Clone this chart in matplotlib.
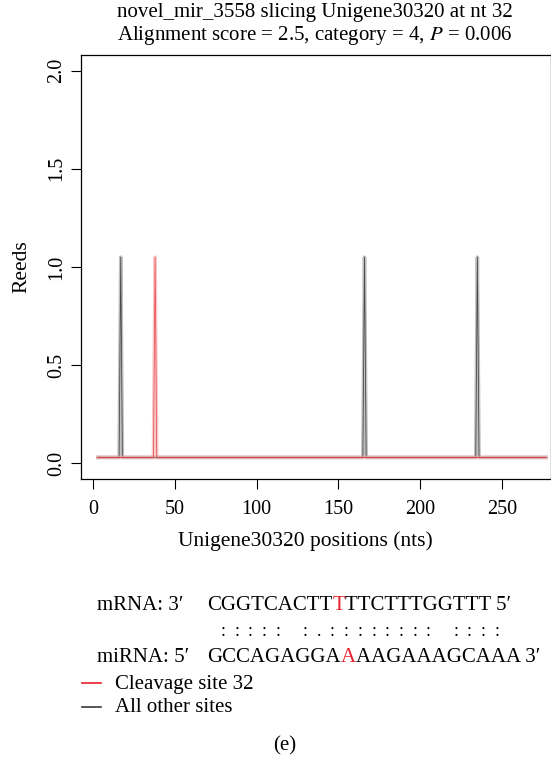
import numpy as np
import matplotlib
matplotlib.use("Agg")
import matplotlib.pyplot as plt

plt.rcParams['font.family'] = ['Liberation Serif', 'DejaVu Serif']
plt.rcParams['mathtext.fontset'] = 'stix'

# series: read counts along the transcript
positions = np.arange(3, 278)
baseline = 0.03
other_sites = [17, 166, 235]
other_reads = [1.05, 1.05, 1.05]
cleave_sites = [38]
cleave_reads = [1.05]

mrna_seq = "CGGTCACTTTTTCTTTGGTTT"
mirna_seq = "GCCAGAGGAAAAGAAAGCAAA"
pairing = "::::: :.:::::::: ::::"
cut_index = 9

xticks = [0, 50, 100, 150, 200, 250]
yticks = [0.0, 0.5, 1.0, 1.5, 2.0]

W, H = 551, 763
RED = '#e8202a'
DARK = '#3a3a3a'


def fx(px):
    return px / W


def fy(py):
    return 1 - py / H


def series(sites, reads):
    y = np.full(len(positions), baseline)
    for s, r in zip(sites, reads):
        y[positions == s] = r
    return y


fig = plt.figure(figsize=(5.51, 7.63), dpi=100)
ax_left, ax_right = 81, 551
ax = fig.add_axes((fx(ax_left), fy(479), fx(ax_right - ax_left), (479 - 55) / H))

y_other = series(other_sites, other_reads)
y_cleave = series(cleave_sites, cleave_reads)
ax.plot(positions, y_other, color='#c0c0c0', lw=2.6)
ax.plot(positions, y_other, color='#4a4a4a', lw=0.6)
ax.plot(positions, y_cleave, color='#f4a0a0', lw=2.6, alpha=0.55)
ax.plot(positions, y_cleave, color=RED, lw=0.6, alpha=0.7)

ax.set_xlim(-7.3, 280)
ax.set_ylim(-0.08, 2.08)
ax.set_xticks(xticks)
ax.set_yticks(yticks)
ax.set_yticklabels(['%.1f' % v for v in yticks], rotation=90, va='center')
ax.tick_params(direction='out', length=7, width=0.8, labelsize=14.5)
ax.tick_params(axis='x', pad=8)
ax.tick_params(axis='y', pad=3.5)
for sp in ax.spines.values():
    sp.set_linewidth(0.9)
ax.set_xlabel("Unigene30320 positions (nts)", fontsize=15.5)
ax.xaxis.set_label_coords((305 - ax_left) / (ax_right - ax_left), -(541 - 479) / (479 - 55))
ax.xaxis.label.set_va('center')
ax.set_ylabel("Reeds", fontsize=15.5)
ax.yaxis.set_label_coords(-(ax_left - 22) / (ax_right - ax_left), 0.5)
ax.yaxis.label.set_va('center')
fig.text(fx(315), fy(25), "novel_mir_3558 slicing Unigene30320 at nt 32\n"
         "Alignment score = 2.5, category = 4, $\\mathit{P}$ = 0.006",
         fontsize=15, linespacing=1.1, ha='center', va='center')


def seq_line(y, label, seq, end, x0=207):
    fig.text(fx(97), y, label, fontsize=15, va='bottom', ha='left')
    t = fig.text(fx(x0), y, seq[:cut_index], fontsize=15, va='bottom', ha='left')
    t = plt.annotate(seq[cut_index], xy=(1, 0), xycoords=t, fontsize=15,
                     va='bottom', ha='left', color=RED)
    plt.annotate(seq[cut_index + 1:] + " " + end, xy=(1, 0), xycoords=t,
                 fontsize=15, va='bottom', ha='left')


seq_line(fy(615), "mRNA: 3\u2032", mrna_seq, "5\u2032")
seq_line(fy(667), "miRNA: 5\u2032", mirna_seq, "3\u2032")
for i, c in enumerate(pairing):
    if c != ' ':
        fig.text(fx(223 + i * 13.7), fy(632), c, fontsize=13,
                 ha='center', va='center')

fig.lines.append(plt.Line2D([fx(82), fx(101)], [fy(683)] * 2,
                            color=RED, lw=1.2, transform=fig.transFigure))
fig.lines.append(plt.Line2D([fx(82), fx(101)], [fy(707)] * 2,
                            color=DARK, lw=1.2, transform=fig.transFigure))
fig.text(fx(115), fy(684), "Cleavage site 32", fontsize=15, va='center')
fig.text(fx(115), fy(708), "All other sites", fontsize=15, va='center')
fig.text(fx(285), fy(746), "(e)", fontsize=15, ha='center', va='center')

fig.savefig("out.png", dpi=100)
